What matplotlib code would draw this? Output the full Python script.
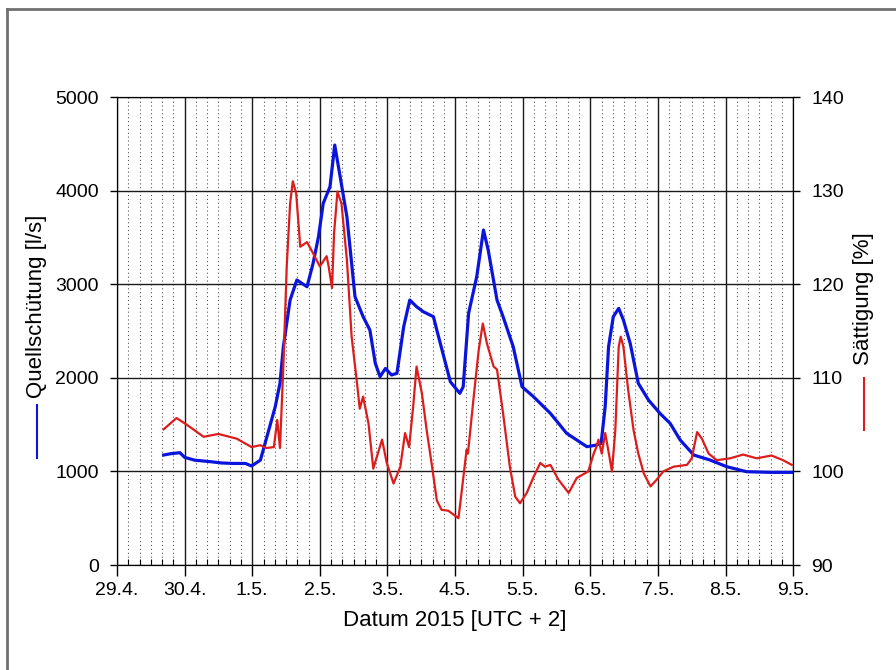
import matplotlib.pyplot as plt
from matplotlib.lines import Line2D
from matplotlib.ticker import MultipleLocator

# x = days after 29.4.2015 00:00 (UTC+2)
day_labels = ["29.4.", "30.4.", "1.5.", "2.5.", "3.5.", "4.5.", "5.5.", "6.5.", "7.5.", "8.5.", "9.5."]

# Quellschüttung [l/s]
q_day = [0.69, 0.80, 0.93, 1.00, 1.15, 1.38, 1.55, 1.72, 1.90, 1.99, 2.12, 2.19, 2.34,
         2.41, 2.46, 2.56, 2.66, 2.81, 2.90, 2.98, 3.05, 3.15, 3.22, 3.30, 3.40, 3.52,
         3.64, 3.74, 3.82, 3.89, 3.97, 4.06, 4.14, 4.24, 4.33, 4.43, 4.53, 4.68, 4.73,
         4.93, 5.07, 5.12, 5.20, 5.32, 5.42, 5.49, 5.62, 5.71, 5.86, 5.99, 6.16, 6.41,
         6.65, 6.95, 7.08, 7.16, 7.22, 7.27, 7.34, 7.42, 7.49, 7.59, 7.71, 7.86, 8.03,
         8.18, 8.33, 8.53, 8.77, 9.02, 9.31, 9.66, 9.98]
q_val = [1175, 1190, 1200, 1150, 1120, 1104, 1090, 1085, 1085, 1058, 1120, 1300, 1691,
         1941, 2332, 2831, 3045, 2973, 3223, 3508, 3864, 4042, 4487, 4150, 3721, 2866,
         2653, 2510, 2155, 2012, 2100, 2030, 2048, 2546, 2831, 2760, 2706, 2653, 2510,
         1958, 1834, 1905, 2689, 3080, 3579, 3365, 2831, 2653, 2332, 1905, 1798, 1620,
         1407, 1264, 1280, 1300, 1691, 2332, 2653, 2742, 2617, 2368, 1941, 1763, 1620,
         1514, 1335, 1175, 1122, 1050, 997, 990, 990]

# Sättigung [%]
s_day = [0.69, 0.88, 1.03, 1.28, 1.50, 1.77, 1.99, 2.12, 2.21, 2.32, 2.37, 2.41, 2.46,
         2.51, 2.56, 2.60, 2.65, 2.71, 2.81, 2.90, 3.00, 3.10, 3.13, 3.18, 3.21, 3.26,
         3.32, 3.40, 3.47, 3.55, 3.59, 3.64, 3.72, 3.79, 3.92, 3.99, 4.09, 4.19, 4.26,
         4.32, 4.38, 4.43, 4.51, 4.58, 4.66, 4.73, 4.80, 4.90, 5.05, 5.10, 5.17, 5.19,
         5.27, 5.35, 5.41, 5.47, 5.57, 5.62, 5.71, 5.81, 5.89, 5.96, 6.06, 6.16, 6.26,
         6.33, 6.41, 6.53, 6.68, 6.80, 6.97, 7.05, 7.09, 7.12, 7.17, 7.22, 7.27, 7.32,
         7.37, 7.42, 7.45, 7.49, 7.56, 7.64, 7.71, 7.79, 7.89, 7.98, 8.08, 8.23, 8.43,
         8.50, 8.58, 8.65, 8.75, 8.87, 9.07, 9.26, 9.46, 9.68, 9.85, 9.98]
s_val = [104.5, 105.7, 105.0, 103.7, 104.0, 103.5, 102.6, 102.8, 102.5, 102.6, 105.5, 102.5, 111.2,
         121.9, 128.6, 131.0, 129.7, 124.0, 124.5, 123.3, 121.9, 123.0, 121.9, 119.6, 125.4, 129.9,
         128.6, 122.6, 114.4, 109.4, 106.7, 108.0, 105.1, 100.3, 103.4, 100.9, 98.7, 100.5, 104.1,
         102.6, 106.9, 111.2, 108.3, 104.4, 100.5, 96.9, 95.9, 95.8, 95.0, 98.0, 102.3, 101.9,
         107.6, 113.0, 115.8, 113.7, 111.2, 110.9, 106.2, 100.5, 97.3, 96.6, 97.7, 99.4, 100.9,
         100.5, 100.7, 99.1, 97.7, 99.3, 100.0, 101.9, 102.6, 103.4, 101.9, 104.1, 102.1, 100.0,
         104.4, 113.3, 114.4, 113.3, 108.7, 104.4, 101.9, 99.8, 98.4, 99.1, 100.0, 100.5, 100.7,
         101.4, 104.2, 103.5, 101.9, 101.2, 101.4, 101.8, 101.4, 101.7, 101.2, 100.7]

plt.rcParams["font.family"] = ["Liberation Sans", "DejaVu Sans"]
plt.rcParams["font.size"] = 14

fig = plt.figure(figsize=(8.96, 6.70), dpi=100)
ax = fig.add_axes([0.1306, 0.1567, 0.7546, 0.6985])

ax.plot(q_day, q_val, color="#0a14dc", lw=2.3)
ax.set_xlim(0, 10)
ax.set_ylim(0, 5000)
ax.xaxis.set_minor_locator(MultipleLocator(1 / 6))
ax.yaxis.set_major_locator(MultipleLocator(1000))
ax.set_xticks(range(len(day_labels)))
ax.set_xticklabels(day_labels)
ax.grid(which="major", color="#1a1a1a", lw=1.0, ls="-")
ax.grid(which="minor", axis="x", color="#555555", lw=0.8, ls=(0, (1, 2.5)))
ax.set_axisbelow(True)
ax.tick_params(axis="x", which="major", direction="out", length=8, width=1, pad=4)
ax.tick_params(axis="x", which="minor", direction="in", length=4, width=0.8)
ax.tick_params(axis="y", which="major", direction="out", length=5, width=1, pad=8)
ax.set_xlabel("Datum 2015 [UTC + 2]", fontsize=16, labelpad=8)
for s in ax.spines.values():
    s.set_color("#1a1a1a")

ax2 = ax.twinx()
ax2.plot(s_day, s_val, color="#dd1c1c", lw=1.6)
ax2.set_ylim(90, 140)
ax2.yaxis.set_major_locator(MultipleLocator(10))
ax2.tick_params(axis="y", direction="out", length=5, width=1, pad=8)

# axis titles with line keys
fig.text(0.041, 0.406, "Quellschütung [l/s]", rotation=90, ha="center", va="bottom", fontsize=16)
fig.add_artist(Line2D([0.041, 0.041], [0.316, 0.396], color="#0a14dc", lw=1.5,
                      transform=fig.transFigure))
fig.text(0.964, 0.455, "Sättigung [%]", rotation=90, ha="center", va="bottom", fontsize=16)
fig.add_artist(Line2D([0.964, 0.964], [0.358, 0.436], color="#dd1c1c", lw=1.5,
                      transform=fig.transFigure))

# screenshot frame (top and left)
fig.add_artist(Line2D([0.008, 1.0], [0.987, 0.987], color="#707070", lw=2,
                      transform=fig.transFigure))
fig.add_artist(Line2D([0.008, 0.008], [0.0, 0.987], color="#707070", lw=2,
                      transform=fig.transFigure))

fig.savefig("out.png", dpi=100)
